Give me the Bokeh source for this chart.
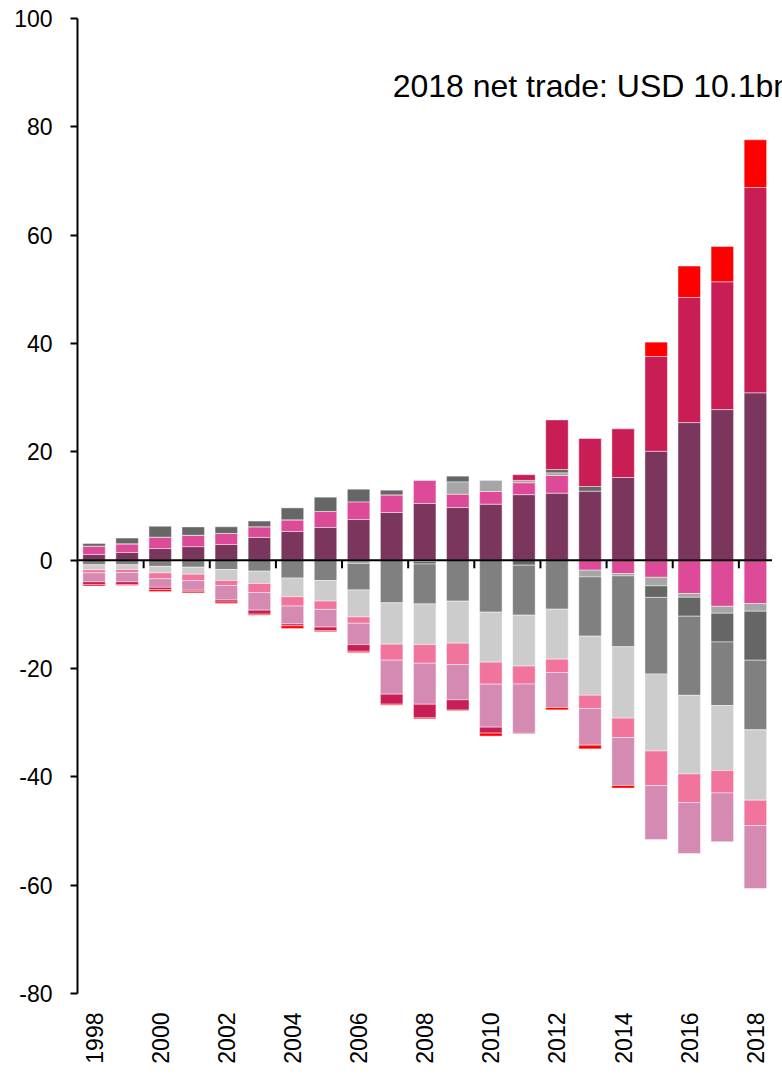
import math
import numpy as np
from bokeh.plotting import figure
from bokeh.models import ColumnDataSource, FixedTicker, Label, PrintfTickFormatter
from bokeh.embed import file_html
from bokeh.resources import INLINE

years = list(range(1998, 2019))
tick_years = list(range(1998, 2019, 2))
y_ticks = list(range(-80, 101, 20))

# net trade by category (USD bn), in stacking order
cat_1 = [1.05, 1.42, 2.15, 2.5, 2.9, 4.2, 5.3, 6.03, 7.5, 8.8, 10.46, 9.72, 10.34, 12.1, 12.37, 12.74, 15.26, 20.1, 25.4, 27.8, 30.9]
cat_2 = [1.54, 1.6, 2.1, 2.1, 2.03, 1.97, 2.15, 2.95, 3.26, 3.26, 4.25, 2.46, 2.34, 2.2, 3.26, -1.85, -2.46, -3.17, -6.15, -8.52, -8.0]
cat_3 = [0, 0, 0, 0, 0, 0, 0, 0, -0.6, 0, -0.25, 2.28, 2.1, 0.43, 0.5, -1.23, -0.43, -1.58, -0.7, -1.28, -1.42]
cat_4 = [0.5, 1.05, 2.0, 1.54, 1.23, 1.05, 2.2, 2.65, 2.34, 0.86, -0.45, 1.05, 0, -0.92, 0.6, 0.86, 0, -2.12, -3.5, -5.3, -9.05]
cat_5 = [-0.86, -0.86, -1.15, -1.3, -1.72, -2.03, -3.3, -3.75, -4.9, -7.88, -7.38, -7.57, -9.6, -9.23, -9.05, -10.95, -13.1, -14.15, -14.6, -11.75, -12.86]
cat_6 = [-0.92, -0.86, -1.2, -1.3, -2.03, -2.28, -3.45, -3.8, -4.98, -7.63, -7.5, -7.75, -9.23, -9.4, -9.23, -10.9, -13.17, -14.2, -14.5, -12.0, -12.98]
cat_7 = [-0.55, -0.55, -1.07, -1.17, -0.92, -1.66, -1.72, -1.54, -1.17, -2.95, -3.45, -3.94, -4.06, -3.32, -2.46, -2.46, -3.57, -6.4, -5.3, -4.12, -4.68]
cat_8 = [-1.66, -1.72, -1.6, -1.78, -2.7, -3.26, -3.3, -3.26, -3.94, -6.28, -7.57, -6.52, -7.94, -9.1, -6.46, -6.77, -8.86, -9.97, -9.4, -9.0, -11.63]
cat_9 = [-0.55, -0.55, -0.4, -0.3, -0.37, -0.74, -0.35, -0.68, -1.23, -1.85, -2.52, -1.9, -1.1, 1.05, 9.17, 8.86, 8.98, 17.5, 23.1, 23.6, 37.9]
cat_10 = [-0.25, -0.12, -0.35, -0.2, -0.25, -0.18, -0.5, -0.18, -0.25, -0.18, -0.18, -0.12, -0.55, -0.1, -0.43, -0.68, -0.49, 2.65, 5.8, 6.5, 8.8]

series = [cat_1, cat_2, cat_3, cat_4, cat_5, cat_6, cat_7, cat_8, cat_9, cat_10]
colors = ["#7B365E", "#DD4B98", "#A6A6A6", "#666666", "#808080",
          "#CCCCCC", "#F0749C", "#D58AB2", "#C81E55", "#FF0000"]

note = "2018 net trade: USD 10.1bn"
FONT = "Liberation Sans"

p = figure(width=782, height=1074, x_range=(1997.5, 2018.82), y_range=(-80, 100),
           output_backend="svg", toolbar_location=None,
           min_border_left=77, min_border_right=0, min_border_top=18, min_border_bottom=81)
p.xgrid.visible = False
p.ygrid.visible = False
p.outline_line_color = None
p.background_fill_color = "white"
p.border_fill_color = "white"

pos = np.zeros(len(years))
neg = np.zeros(len(years))
for vals, col in zip(series, colors):
    v = np.array(vals, dtype=float)
    bottom = np.where(v >= 0, pos, neg + v)
    top = np.where(v >= 0, pos + v, neg)
    pos = pos + np.clip(v, 0, None)
    neg = neg + np.clip(v, None, 0)
    src = ColumnDataSource(dict(x=years, bottom=bottom, top=top))
    p.vbar(x="x", bottom="bottom", top="top", width=0.68, source=src,
           fill_color=col, line_color="white", line_alpha=0.55, line_width=0.8)

# horizontal category axis line crossing at zero, with tick marks between every two years
p.segment(x0=[years[0] - 0.5], x1=[years[-1] + 0.5], y0=[0], y1=[0],
          line_color="black", line_width=2)
tick_pos = [y + 1.5 for y in tick_years[:-1]]
p.segment(x0=tick_pos, x1=tick_pos, y0=[0] * len(tick_pos), y1=[-1.5] * len(tick_pos),
          line_color="black", line_width=2)

# y axis
p.yaxis.ticker = FixedTicker(ticks=y_ticks)
p.yaxis.formatter = PrintfTickFormatter(format="%d")
p.yaxis.axis_line_width = 2
p.yaxis.axis_line_color = "black"
p.yaxis.major_tick_line_width = 2
p.yaxis.major_tick_line_color = "black"
p.yaxis.major_tick_out = 7
p.yaxis.major_tick_in = 0
p.yaxis.minor_tick_line_color = None
p.yaxis.major_label_text_font = FONT
p.yaxis.major_label_text_font_size = "23px"
p.yaxis.major_label_text_color = "black"
p.yaxis.major_label_standoff = 18

# x axis (labels only)
p.xaxis.ticker = FixedTicker(ticks=tick_years)
p.xaxis.formatter = PrintfTickFormatter(format="%d")
p.xaxis.axis_line_color = None
p.xaxis.major_tick_line_color = None
p.xaxis.minor_tick_line_color = None
p.xaxis.major_tick_out = 0
p.xaxis.major_tick_in = 0
p.xaxis.major_label_orientation = math.pi / 2
p.xaxis.major_label_text_font = FONT
p.xaxis.major_label_text_font_size = "23px"
p.xaxis.major_label_text_color = "black"
p.xaxis.major_label_standoff = 19

p.add_layout(Label(x=2007.03, y=87.6, text=note, text_font=FONT,
                   text_font_size="32px", text_color="black",
                   text_baseline="alphabetic", text_align="left"))

open("out.html", "w").write(file_html(p, INLINE))
